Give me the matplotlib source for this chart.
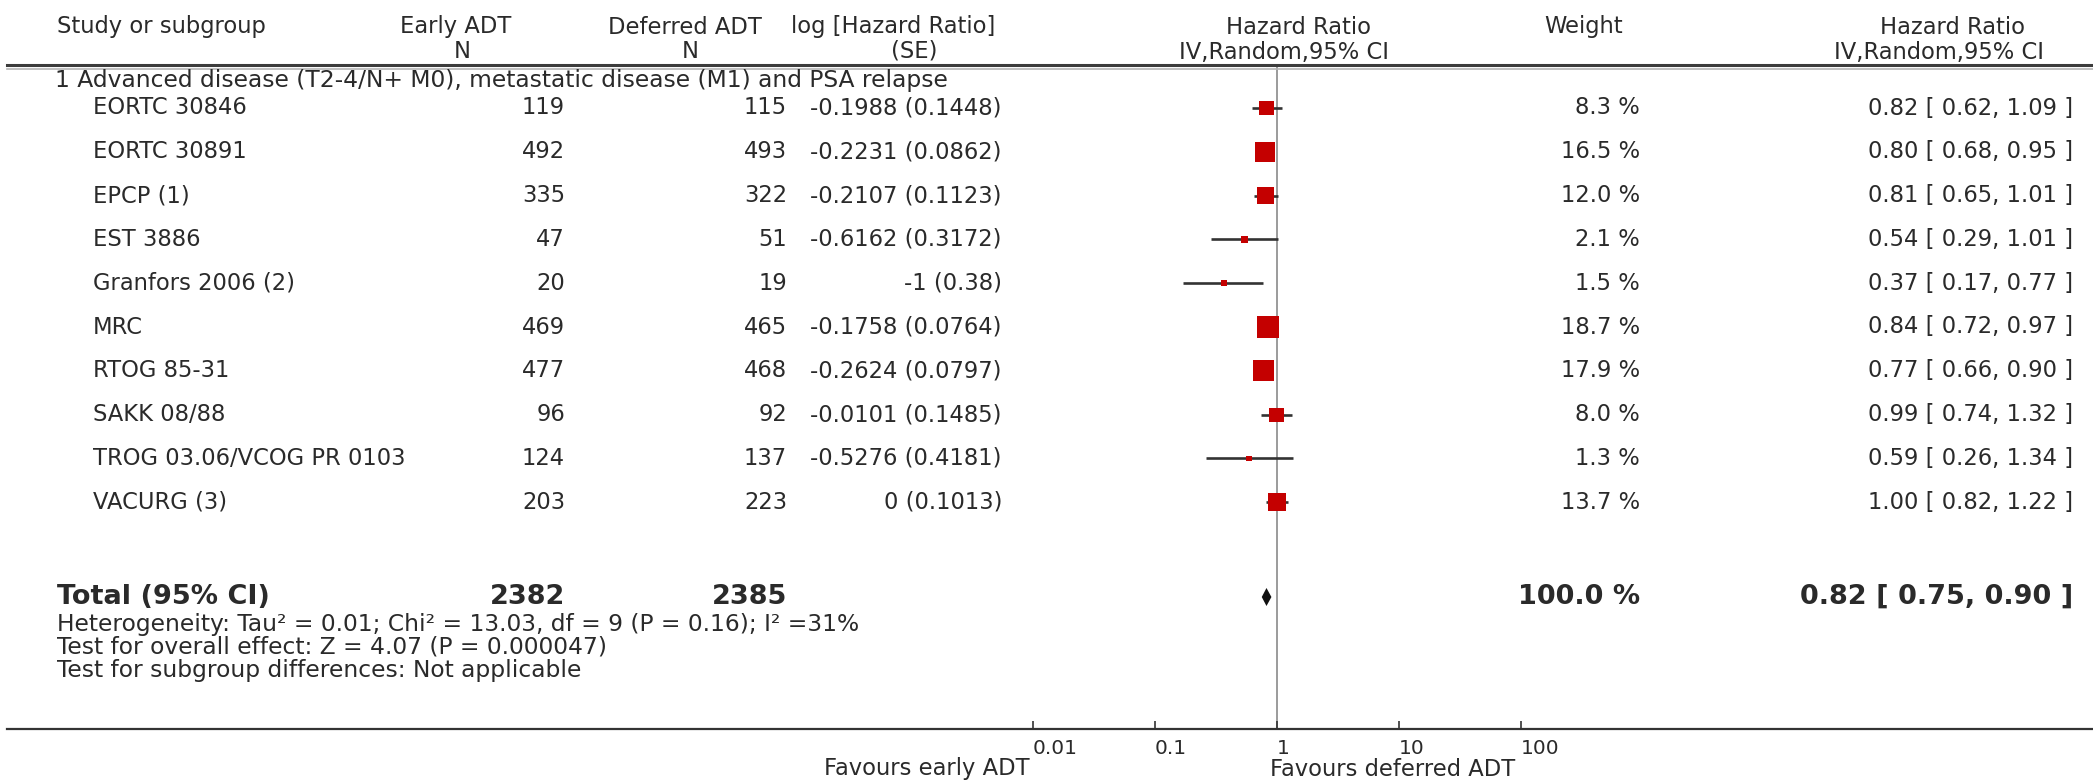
import matplotlib
matplotlib.use("Agg")
import matplotlib.pyplot as plt
from matplotlib.lines import Line2D
import numpy as np

# ---------------- data ----------------
studies = ["EORTC 30846", "EORTC 30891", "EPCP (1)", "EST 3886", "Granfors 2006 (2)",
           "MRC", "RTOG 85-31", "SAKK 08/88", "TROG 03.06/VCOG PR 0103", "VACURG (3)"]
early_n = [119, 492, 335, 47, 20, 469, 477, 96, 124, 203]
deferred_n = [115, 493, 322, 51, 19, 465, 468, 92, 137, 223]
log_hr = [-0.1988, -0.2231, -0.2107, -0.6162, -1, -0.1758, -0.2624, -0.0101, -0.5276, 0]
log_se = [0.1448, 0.0862, 0.1123, 0.3172, 0.38, 0.0764, 0.0797, 0.1485, 0.4181, 0.1013]
weights = [8.3, 16.5, 12.0, 2.1, 1.5, 18.7, 17.9, 8.0, 1.3, 13.7]
hr = [0.82, 0.80, 0.81, 0.54, 0.37, 0.84, 0.77, 0.99, 0.59, 1.00]
hr_lo = [0.62, 0.68, 0.65, 0.29, 0.17, 0.72, 0.66, 0.74, 0.26, 0.82]
hr_hi = [1.09, 0.95, 1.01, 1.01, 0.77, 0.97, 0.90, 1.32, 1.34, 1.22]

total_early = 2382
total_deferred = 2385
total_weight = 100.0
total_hr, total_lo, total_hi = 0.82, 0.75, 0.90

subgroup_title = "1 Advanced disease (T2-4/N+ M0), metastatic disease (M1) and PSA relapse"
footer_lines = ["Heterogeneity: Tau\u00b2 = 0.01; Chi\u00b2 = 13.03, df = 9 (P = 0.16); I\u00b2 =31%",
                "Test for overall effect: Z = 4.07 (P = 0.000047)",
                "Test for subgroup differences: Not applicable"]
tick_values = [0.01, 0.1, 1, 10, 100]
tick_labels = ["0.01", "0.1", "1", "10", "100"]
favours_left = "Favours early ADT"
favours_right = "Favours deferred ADT"

# ---------------- layout ----------------
W, H = 2093, 781
fig = plt.figure(figsize=(W / 100, H / 100), dpi=100)
fig.patch.set_facecolor("white")
TXT = "#2a2a2a"
FS = 16.3
FSL = 16.8
FSB = 19.5


def T(x, y, s, **kw):
    kw.setdefault("color", TXT)
    kw.setdefault("fontsize", FS)
    kw.setdefault("va", "center")
    fig.text(x / W, 1 - y / H, s, **kw)


# header
T(57, 27, "Study or subgroup", ha="left")
T(456, 27, "Early ADT", ha="center")
T(462, 51, "N", ha="center")
T(685, 27, "Deferred ADT", ha="center")
T(690, 51, "N", ha="center")
T(893, 27, "log [Hazard Ratio]", ha="center")
T(914, 51, "(SE)", ha="center")
T(1298, 27, "Hazard Ratio", ha="center")
T(1284, 52, "IV,Random,95% CI", ha="center")
T(1584, 27, "Weight", ha="center")
T(1952, 27, "Hazard Ratio", ha="center")
T(1939, 52, "IV,Random,95% CI", ha="center")

# header rule (double)
fig.add_artist(Line2D([7 / W, 1], [1 - 64.5 / H] * 2, color="#3c3c3c", lw=2.2))
fig.add_artist(Line2D([7 / W, 1], [1 - 68.5 / H] * 2, color="#b5b5b5", lw=1.2))
# bottom axis rule
fig.add_artist(Line2D([7 / W, 1], [1 - 729 / H] * 2, color="#333333", lw=1.6))

T(55, 80, subgroup_title, ha="left", fontsize=FSL)

row0, step = 108, 43.8
row_y = [row0 + step * i for i in range(len(studies))]
for i, y in enumerate(row_y):
    T(93, y, studies[i], ha="left")
    T(565, y, f"{early_n[i]}", ha="right")
    T(787, y, f"{deferred_n[i]}", ha="right")
    T(1002, y, f"{log_hr[i]:g} ({log_se[i]:g})", ha="right")
    T(1640, y, f"{weights[i]:.1f} %", ha="right")
    T(2073, y, f"{hr[i]:.2f} [ {hr_lo[i]:.2f}, {hr_hi[i]:.2f} ]", ha="right")

total_y = 597
T(57, total_y, "Total (95% CI)", ha="left", fontweight="bold", fontsize=FSB)
T(565, total_y, f"{total_early}", ha="right", fontweight="bold", fontsize=FSB)
T(787, total_y, f"{total_deferred}", ha="right", fontweight="bold", fontsize=FSB)
T(1640, total_y, f"{total_weight:.1f} %", ha="right", fontweight="bold", fontsize=FSB)
T(2073, total_y, f"{total_hr:.2f} [ {total_lo:.2f}, {total_hi:.2f} ]", ha="right",
  fontweight="bold", fontsize=FSB)

for k, line in enumerate(footer_lines):
    T(57, 624 + 23.5 * k, line, ha="left", fontsize=FSL)

T(1030, 769, favours_left, ha="right")
T(1270, 769, favours_right, ha="left")

# ---------------- forest axes ----------------
x_left, x_right = 1033, 1521   # pixel positions of 0.01 and 100
y_top, y_bot = 65, 729
ax = fig.add_axes([x_left / W, 1 - y_bot / H, (x_right - x_left) / W, (y_bot - y_top) / H])
ax.set_xscale("log")
ax.set_xlim(tick_values[0], tick_values[-1])
ax.set_ylim(y_bot, y_top)
ax.patch.set_alpha(0)
for sp in ax.spines.values():
    sp.set_visible(False)
ax.set_yticks([])
ax.set_xticks(tick_values)
ax.set_xticklabels(tick_labels)
ax.minorticks_off()
ax.tick_params(axis="x", direction="in", length=6, width=1.2, color="#333333",
               labelsize=14.5, labelcolor=TXT, pad=7)
for lbl in ax.get_xticklabels():
    lbl.set_ha("left")

ax.axvline(1, color="#808080", lw=1.1, zorder=1)

# CI lines and weighted squares
ax.hlines(row_y, hr_lo, hr_hi, color="#333333", lw=1.9, zorder=2)
sides_pt = [5.0 * np.sqrt(w) * 0.72 for w in weights]
ax.scatter(hr, row_y, s=[s ** 2 for s in sides_pt], marker="s", color="#c40000",
           edgecolors="none", zorder=3)

# pooled diamond
half_h = 9
ax.fill([total_lo, total_hr, total_hi, total_hr],
        [total_y, total_y - half_h, total_y, total_y + half_h],
        color="#111111", zorder=3, lw=0)

fig.savefig("out.png", dpi=100, facecolor="white")
